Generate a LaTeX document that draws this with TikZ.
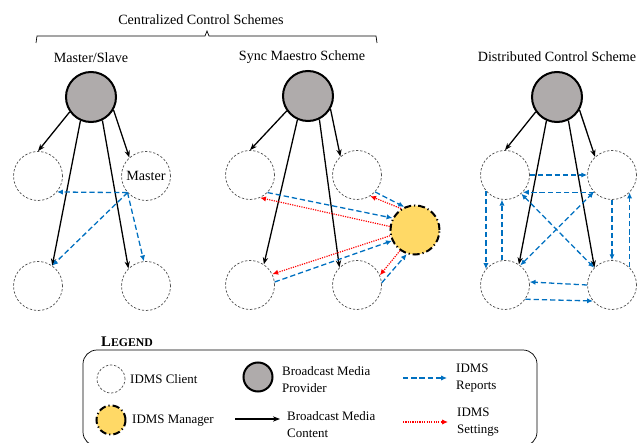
\documentclass[tikz,border=0pt]{standalone}
\usepackage{fontspec}
\setmainfont{Liberation Serif}
\usetikzlibrary{arrows.meta}
\newlength{\du}
\setlength{\du}{0.8504pt}
\definecolor{clientgray}{RGB}{80,80,80}
\definecolor{provgray}{RGB}{175,171,171}
\definecolor{mgryellow}{RGB}{255,217,102}
\definecolor{repblue}{RGB}{0,112,192}
\definecolor{setred}{RGB}{255,0,0}

\begin{document}
\begin{tikzpicture}[
  client/.style={circle,draw=clientgray,line width=0.6pt,dash pattern=on 2pt off 1.5pt,minimum size=49\du,inner sep=0pt},
  provider/.style={circle,draw=black,line width=1.7pt,fill=provgray,minimum size=50\du,inner sep=0pt},
  manager/.style={circle,draw=black,line width=1.7pt,dash pattern=on 6pt off 2.5pt on 1pt off 2.5pt,fill=mgryellow,minimum size=49\du,inner sep=0pt},
  bcast/.style={line width=1.1pt,-{Stealth[length=6pt,width=4.5pt]}},
  report/.style={draw=repblue,line width=1.1pt,dash pattern=on 4.5pt off 2.5pt,-{Latex[length=5pt,width=4.5pt]}},
  report2/.style={report,{Latex[length=5pt,width=4.5pt]}-{Latex[length=5pt,width=4.5pt]}},
  setting/.style={draw=setred,line width=1pt,dash pattern=on 1pt off 1pt,-{Latex[length=5pt,width=4.5pt]}},
  lbl/.style={font=\fontsize{12}{14}\selectfont,inner sep=0pt},
  legtext/.style={font=\fontsize{11}{14.5}\selectfont,anchor=west,align=left,inner sep=0pt}
]
\pgftransformxscale{1.000000}
\pgftransformyscale{-1.000000}
\useasboundingbox (0\du,0\du) rectangle (639\du,443\du);

% headings
\node[lbl] (centtitle) at (201\du,20\du) {Centralized Control Schemes};
\draw[line width=0.6pt] (36\du,43\du)--(37\du,36\du)--(205\du,36\du)--(207\du,31\du)--(209\du,36\du)--(376\du,36\du)--(377\du,43\du);
\node[lbl] (mstitle) at (91\du,58\du) {Master/Slave};
\node[lbl] (smtitle) at (302\du,57\du) {Sync Maestro Scheme};
\node[lbl] (ddtitle) at (557\du,57\du) {Distributed Control Scheme};

% master/slave
\node[provider] (msprov) at (91\du,97\du) {};
\node[client] (mstl) at (38\du,176\du) {};
\node[client,lbl] (mstr) at (146\du,176\du) {Master};
\node[client] (msbl) at (38\du,286\du) {};
\node[client] (msbr) at (146\du,286\du) {};
\draw[bcast] (msprov.-145)--(mstl.north);
\draw[bcast] (msprov.-114)--(msbl.55);
\draw[bcast] (msprov.-64)--(msbr.135);
\draw[bcast] (msprov.-30)--(mstr.132);
\draw[report] (mstr.-138)--(mstl.-40);
\draw[report] (mstr.-138)--(msbl.55);
\draw[report] (mstr.-138)--(msbr.95);

% sync maestro
\node[provider] (smprov) at (308\du,96\du) {};
\node[client] (smtl) at (250\du,175\du) {};
\node[client] (smtr) at (357\du,175\du) {};
\node[client] (smbl) at (250\du,285\du) {};
\node[client] (smbr) at (357\du,285\du) {};
\node[manager] (smmgr) at (415\du,230\du) {};
\draw[bcast] (smprov.-145)--(smtl.north);
\draw[bcast] (smprov.-114)--(smbl.56);
\draw[bcast] (smprov.-64)--(smbr.135);
\draw[bcast] (smprov.-30)--(smtr.132);
\draw[report] (smtl.-45)--(smmgr.152);
\draw[report] (smtr.-43)--(smmgr.115);
\draw[report] (smbl.7)--(smmgr.-155);
\draw[report] (smbr.5)--(smmgr.-109);
\draw[setting] (smmgr.172)--(smtl.-66);
\draw[setting] (smmgr.123)--(smtr.-58);
\draw[setting] (smmgr.-167)--(smbl.26);
\draw[setting] (smmgr.-126)--(smbr.23);

% distributed
\node[provider] (ddprov) at (557\du,97\du) {};
\node[client] (ddtl) at (505\du,175\du) {};
\node[client] (ddtr) at (612\du,175\du) {};
\node[client] (ddbl) at (505\du,285\du) {};
\node[client] (ddbr) at (612\du,285\du) {};
\draw[bcast] (ddprov.-145)--(ddtl.north);
\draw[bcast] (ddprov.-114)--(ddbl.56);
\draw[bcast] (ddprov.-64)--(ddbr.135);
\draw[bcast] (ddprov.-30)--(ddtr.133);
\draw[report] (ddtl.east)--(ddtr.west);
\draw[report] (ddtr.-136)--(ddtl.-44);
\draw[report] (ddtl.-140)--(ddbl.140);
\draw[report] (ddbl.97)--(ddtl.-97);
\draw[report] (ddtr.-90)--(ddbr.90);
\draw[report] (ddbr.45)--(ddtr.-45);
\draw[report] (ddbr.180)--(ddbl.7);
\draw[report] (ddbl.-35)--(ddbr.-140);
\draw[report2] (ddtl.-49)--(ddbr.136);
\draw[report2] (ddbl.52)--(ddtr.-137);

% legend
\node[anchor=west,inner sep=0pt,font=\bfseries\fontsize{12.5}{14}\selectfont] (legtitle) at (101\du,342\du) {L{\fontsize{10}{12}\selectfont EGEND}};
\draw[line width=0.6pt,rounded corners=14\du] (83\du,350\du) rectangle (537\du,446\du);
\node[client,minimum size=28\du] (legclient) at (111\du,379\du) {};
\node[legtext] (legclienttxt) at (130\du,379\du) {IDMS Client};
\node[provider,minimum size=29\du] (legprov) at (258\du,377\du) {};
\node[legtext] (legprovtxt) at (282\du,380\du) {Broadcast Media\\Provider};
\coordinate (repa) at (403\du,378\du);
\coordinate (repb) at (447\du,378\du);
\draw[report] (repa)--(repb);
\node[legtext] (legreptxt) at (456\du,378\du) {IDMS\\Reports};
\node[manager,minimum size=29\du] (legmgr) at (111\du,420\du) {};
\node[legtext] (legmgrtxt) at (132\du,421\du) {IDMS Manager};
\coordinate (bca) at (235\du,419\du);
\coordinate (bcb) at (280\du,419\du);
\draw[bcast] (bca)--(bcb);
\node[legtext] (legbctxt) at (287\du,425\du) {Broadcast Media\\Content};
\coordinate (seta) at (403\du,422\du);
\coordinate (setb) at (448\du,422\du);
\draw[setting] (seta)--(setb);
\node[legtext] (legsettxt) at (457\du,422\du) {IDMS\\Settings};
\end{tikzpicture}
\end{document}
